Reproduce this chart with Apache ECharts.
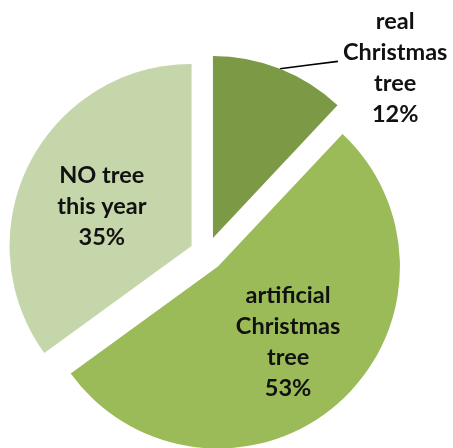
<!DOCTYPE html>
<html>
<head>
<meta charset="utf-8">
<script src="https://cdn.jsdelivr.net/npm/echarts@6/dist/echarts.min.js"></script>
<style>
html,body{margin:0;padding:0;background:#fff;}
#chart{width:453px;height:448px;}
</style>
</head>
<body>
<div id="chart"></div>
<script>
const categories = ['real\nChristmas\ntree', 'artificial\nChristmas\ntree', 'NO tree\nthis year'];
const values = [12, 53, 35];
const colors = ['#7C9A46', '#9BBB59', '#C5D6AA'];

const font = {fontFamily: 'Lato', fontWeight: 'bold', fontSize: 23.5, lineHeight: 31, color: '#111'};
const labelShift = [[0, 7], [8, 5], [-6, 3]];

const chart = echarts.init(document.getElementById('chart'), null, {renderer: 'canvas'});
const data = categories.map((name, i) => {
  const item = {
    name: name,
    value: values[i],
    selected: true,
    itemStyle: {color: colors[i]}
  };
  if (i === 0) {
    item.label = {position: 'outside'};
    item.labelLine = {show: true, length: 8, length2: 55, lineStyle: {color: '#000', width: 1.6}};
  } else {
    item.label = {position: 'inside'};
    item.labelLine = {show: false};
  }
  return item;
});

chart.setOption({
  animation: false,
  series: [{
    type: 'pie',
    center: [206.7, 253.8],
    radius: [0, 182],
    startAngle: 90,
    clockwise: true,
    selectedMode: 'multiple',
    selectedOffset: 17,
    avoidLabelOverlap: false,
    emphasis: {disabled: true},
    itemStyle: {borderWidth: 0},
    select: {itemStyle: {borderWidth: 0}},
    label: {
      show: true,
      formatter: p => '{t|' + p.name + '\n' + p.value + '%}',
      rich: {t: Object.assign({align: 'center'}, font)},
      ...font
    },
    labelLayout: function (params) {
      const s = labelShift[params.dataIndex];
      const out = {dx: s[0], dy: s[1]};
      if (params.dataIndex === 0 && params.labelLinePoints) {
        const pts = params.labelLinePoints;
        const a = pts[0], c = pts[pts.length - 1];
        out.labelLinePoints = [a, [(a[0] + c[0]) / 2, (a[1] + c[1]) / 2], c];
      }
      return out;
    },
    data: data
  }]
});
</script>
</body>
</html>
